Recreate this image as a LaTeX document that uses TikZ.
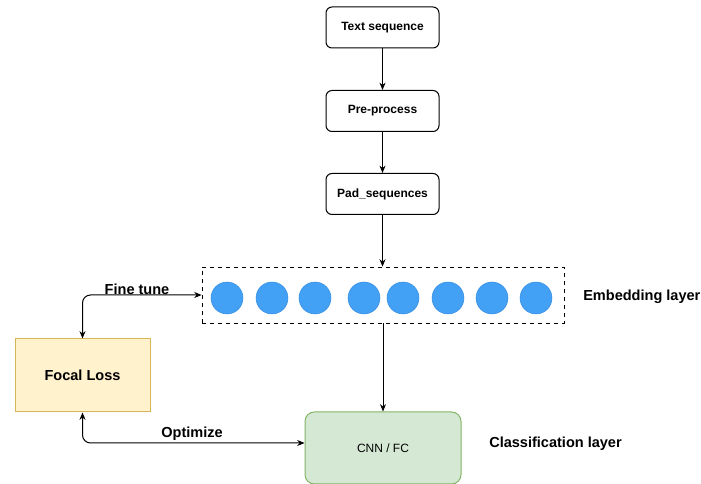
\documentclass[tikz,border=0pt]{standalone}
\usepackage{fontspec}
\setmainfont{Liberation Sans}
\usetikzlibrary{arrows.meta}
\definecolor{circfill}{HTML}{42A1F5}
\definecolor{circdraw}{HTML}{3A8FE0}
\definecolor{yfill}{HTML}{FFF2CC}
\definecolor{ydraw}{HTML}{D6B656}
\definecolor{gfill}{HTML}{D5E8D4}
\definecolor{gdraw}{HTML}{82B366}
\begin{document}
\begin{tikzpicture}[x=0.75pt,y=-0.75pt,
  proc/.style={draw=black, line width=0.75pt, rounded corners=4.5pt, minimum width=84.75pt, minimum height=30.75pt, inner sep=0pt, font=\fontsize{9}{10}\selectfont\bfseries},
  emb/.style={circle, fill=circfill, draw=circdraw, line width=0.4pt, minimum size=24pt, inner sep=0pt},
  lbl/.style={font=\fontsize{10.9}{12}\selectfont\bfseries, inner sep=0pt},
  conn/.style={line width=0.75pt, -{Stealth[length=5.5pt,width=4.5pt]}},
  bconn/.style={line width=0.75pt, {Stealth[length=5.5pt,width=4.5pt]}-{Stealth[length=5.5pt,width=4.5pt]}, rounded corners=6pt}
]
\useasboundingbox (0,0) rectangle (701,484);
\node[proc] (ts) at (382.5,27.5) {Text sequence};
\node[proc] (pp) at (382.5,111) {Pre-process};
\node[proc] (pad) at (382.5,194) {Pad\_sequences};
\node[draw=black, dashed, line width=0.6pt, minimum width=271.5pt, minimum height=42pt, inner sep=0pt] (box) at (383,295) {};
\foreach \i/\x in {1/227,2/272,3/315,4/364,5/403,6/448,7/492,8/536} {
  \node[emb] (c\i) at (\x,298) {};
}
\node[lbl, anchor=west] (embl) at (583,297) {Embedding layer};
\node[draw=ydraw, fill=yfill, line width=0.75pt, minimum width=101.25pt, minimum height=54.75pt, inner sep=0pt, font=\fontsize{10.9}{12}\selectfont\bfseries] (fl) at (82.5,375.5) {Focal Loss};
\node[draw=gdraw, fill=gfill, line width=0.75pt, rounded corners=7pt, minimum width=117pt, minimum height=54pt, inner sep=0pt, font=\fontsize{9}{10}\selectfont] (cnn) at (383,448) {CNN / FC};
\node[lbl, anchor=west] (cll) at (489,444) {Classification layer};
\draw[conn] (ts) -- (pp);
\draw[conn] (pp) -- (pad);
\draw[conn] (pad) -- (pad.south |- box.north);
\draw[conn] (box.south -| cnn.north) -- (cnn.north);
\coordinate (ft) at (82.5,295);
\draw[bconn] (fl.north) -- (ft) -- (box.west |- ft);
\node[lbl] (ftl) at (137,289) {Fine tune};
\coordinate (op) at (82.5,443);
\draw[bconn] (fl.south) -- (op) -- (cnn.west |- op);
\node[lbl] (opl) at (192,434) {Optimize};
\end{tikzpicture}
\end{document}
